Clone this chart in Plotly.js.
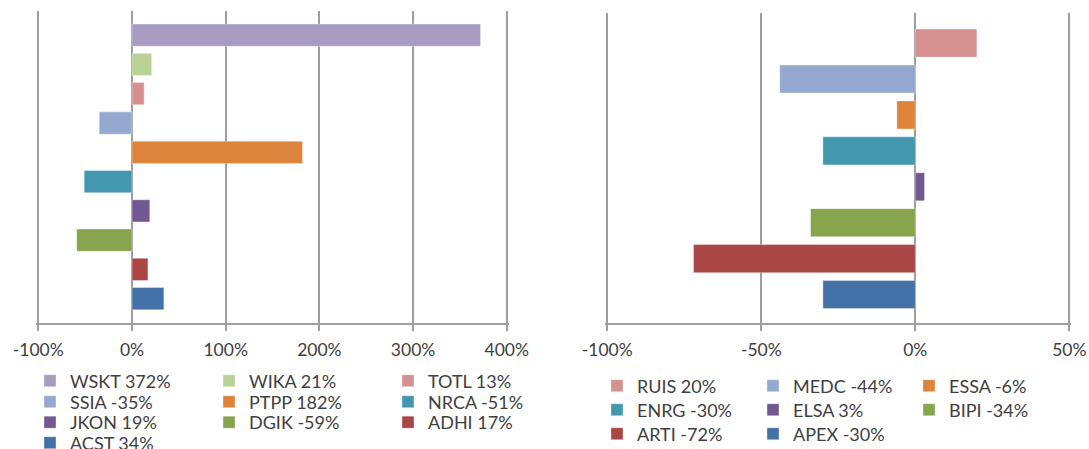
<!DOCTYPE html>
<html>
<head>
<meta charset="utf-8">
<script src="https://cdn.plot.ly/plotly-3.0.1.min.js"></script>
<style>
html,body{margin:0;padding:0;background:#fff;}
#chart{width:1089px;height:449px;}
</style>
</head>
<body>
<div id="chart"></div>
<script>
// ---- data ----
const leftNames  = ['WSKT','WIKA','TOTL','SSIA','PTPP','NRCA','JKON','DGIK','ADHI','ACST'];
const leftValues = [372, 21, 13, -35, 182, -51, 19, -59, 17, 34];
const rightNames  = ['RUIS','MEDC','ESSA','ENRG','ELSA','BIPI','ARTI','APEX'];
const rightValues = [20, -44, -6, -30, 3, -34, -72, -30];
const leftTicks  = [-100, 0, 100, 200, 300, 400];
const rightTicks = [-100, -50, 0, 50];

// ---- styles ----
const leftColors  = ['#A89BC1','#B9D097','#D49190','#95A9D0','#DC843C','#4398B0','#725892','#88A44C','#AA4643','#4471A7'];
const rightColors = ['#D49190','#95A9D0','#DC843C','#4398B0','#725892','#88A44C','#AA4643','#4471A7'];

const W = 1089, H = 449;
const FONT = 'Lato, "Open Sans", sans-serif';
const TXT = '#404040';
const GRID = '#9E9E9E';

const traces = [];
leftNames.forEach((n, i) => {
  traces.push({
    type: 'bar', orientation: 'h',
    x: [leftValues[i]], y: [n],
    xaxis: 'x', yaxis: 'y',
    width: 0.76,
    name: n + ' ' + leftValues[i] + '%',
    marker: {color: leftColors[i], line: {color: 'rgba(255,255,255,0.35)', width: 1}},
    legend: i < 3 ? 'legend' : 'legend' + (Math.floor(i / 3) + 1),
    hoverinfo: 'x+name'
  });
});
rightNames.forEach((n, i) => {
  traces.push({
    type: 'bar', orientation: 'h',
    x: [rightValues[i]], y: [n],
    xaxis: 'x2', yaxis: 'y2',
    width: 0.78,
    name: n + ' ' + rightValues[i] + '%',
    marker: {color: rightColors[i], line: {color: 'rgba(255,255,255,0.35)', width: 1}},
    legend: 'legend' + (Math.floor(i / 3) + 5),
    hoverinfo: 'x+name'
  });
});

function xax(domain, range, ticks) {
  return {
    domain: domain, range: range, fixedrange: true,
    tickmode: 'array', tickvals: ticks, ticktext: ticks.map(v => v + '%'),
    showgrid: true, gridcolor: GRID, gridwidth: 1.5,
    zeroline: true, zerolinecolor: GRID, zerolinewidth: 1.5,
    showline: true, linecolor: GRID, linewidth: 1.6,
    ticks: 'outside', ticklen: 6, tickcolor: GRID, tickwidth: 1.5,
    tickfont: {family: FONT, size: 17.5, color: TXT},
    ticklabelstandoff: 4
  };
}
function yax(domain, cats, range) {
  return {
    domain: domain, type: 'category', categoryorder: 'array', categoryarray: cats,
    range: range, fixedrange: true,
    showgrid: false, zeroline: false, showline: false, showticklabels: false, ticks: ''
  };
}
function leg(xpx, ypx, ew, fs) {
  return {
    orientation: 'h', x: xpx / W, xanchor: 'left', y: 1 - ypx / H, yanchor: 'middle',
    entrywidth: ew, entrywidthmode: 'pixels',
    font: {family: FONT, size: fs, color: TXT},
    bgcolor: 'rgba(0,0,0,0)', borderwidth: 0, itemclick: false, itemdoubleclick: false
  };
}

// axis ranges padded by ~2px so the end grid lines are drawn
const layout = {
  width: W, height: H,
  margin: {l: 0, r: 0, t: 0, b: 0, autoexpand: false},
  paper_bgcolor: '#fff', plot_bgcolor: 'rgba(0,0,0,0)',
  barmode: 'overlay',
  showlegend: true,
  xaxis:  xax([36.24 / W, 508.86 / W], [-102.2, 402.2], leftTicks),
  yaxis:  yax([1 - 322.7 / H, 1 - 11 / H], leftNames, [9.82, -0.825]),
  xaxis2: xax([605.14 / W, 1071.46 / W], [-100.7, 50.7], rightTicks),
  yaxis2: yax([1 - 324 / H, 1 - 13.3 / H], rightNames, [7.82, -0.83]),
  legend:  leg(30, 381, 134, 18),
  legend2: leg(30, 402, 134, 18),
  legend3: leg(30, 422.5, 134, 18),
  legend4: leg(30, 443, 134, 18),
  legend5: leg(597, 386, 111, 18),
  legend6: leg(597, 410, 111, 18),
  legend7: leg(597, 434, 111, 18),
  font: {family: FONT, color: TXT}
};

Plotly.newPlot('chart', traces, layout, {displayModeBar: false});
</script>
</body>
</html>
